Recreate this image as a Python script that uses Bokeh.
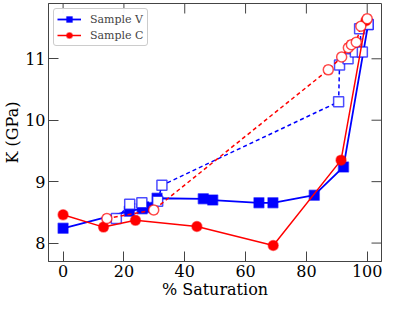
import math
from bokeh.plotting import figure
from bokeh.models import Range1d, FixedTicker, Legend, LegendItem, ColumnDataSource, Whisker, TeeHead
from bokeh.embed import file_html
from bokeh.resources import INLINE

# Sample V, solid (filled squares)
v_x = [0, 21.8, 26.0, 28.0, 30.9, 46.1, 49.2, 64.4, 69.0, 82.6, 92.2, 100.3]
v_y = [8.24, 8.52, 8.56, 8.58, 8.73, 8.72, 8.70, 8.655, 8.655, 8.78, 9.24, 11.56]
v_err = [0.03] * 12

# Sample V, dashed (open squares)
vo_x = [17.5, 21.9, 25.9, 31.1, 32.5, 90.6, 90.9, 93.7, 96.1, 98.4, 97.5, 100.3]
vo_y = [8.40, 8.63, 8.655, 8.68, 8.94, 10.30, 10.90, 11.00, 11.11, 11.11, 11.49, 11.56]
vo_err = [0.03] * 12

# Sample C, solid (filled circles)
c_x = [0, 13.3, 23.8, 44.0, 69.1, 91.4, 99.6]
c_y = [8.46, 8.26, 8.37, 8.27, 7.96, 9.35, 11.62]
c_err = [0.05] * 7

# Sample C, dashed (open circles)
co_x = [14.4, 29.8, 87.2, 91.6, 93.8, 94.8, 96.4, 97.9, 100.0]
co_y = [8.40, 8.54, 10.82, 11.03, 11.18, 11.23, 11.27, 11.53, 11.65]
co_err = [0.06] * 9

x_ticks = [0, 20, 40, 60, 80, 100]
y_ticks = [8, 9, 10, 11]
x_lim = (-4.8, 104.7)
y_lim = (7.7, 11.9)

BLUE = "#0000ff"
RED = "#ff0000"
FRAME = "#444444"
FONT = "DejaVu Serif"

p = figure(width=383, height=301, output_backend="svg", toolbar_location=None,
           x_range=Range1d(*x_lim), y_range=Range1d(*y_lim),
           min_border_left=0, min_border_right=2, min_border_top=3, min_border_bottom=0)
p.grid.visible = False
p.outline_line_color = FRAME
p.outline_line_width = 1

for ax in (p.xaxis[0], p.yaxis[0]):
    ax.major_tick_in = 10
    ax.major_tick_out = 0
    ax.minor_tick_line_color = None
    ax.axis_line_color = FRAME
    ax.major_tick_line_color = FRAME
    ax.major_label_text_font = FONT
    ax.major_label_text_font_size = "16px"
    ax.major_label_text_color = "#000000"
    ax.axis_label_text_font = FONT
    ax.axis_label_text_font_size = "16px"
    ax.axis_label_text_font_style = "normal"
    ax.axis_label_text_color = "#000000"
p.xaxis[0].ticker = FixedTicker(ticks=x_ticks)
p.yaxis[0].ticker = FixedTicker(ticks=y_ticks)
p.xaxis[0].axis_label = "% Saturation"
p.yaxis[0].axis_label = "K (GPa)"
p.xaxis[0].axis_label_standoff = 0
p.yaxis[0].axis_label_standoff = 0
p.xaxis[0].major_label_standoff = 3
p.yaxis[0].major_label_standoff = 3

# inward ticks on the top and right frame edges
p.ray(x=x_ticks, y=[y_lim[1]] * len(x_ticks), length=10, length_units="screen",
      angle=-math.pi / 2, line_color=FRAME, line_width=1)
p.ray(x=[x_lim[1]] * len(y_ticks), y=y_ticks, length=10, length_units="screen",
      angle=math.pi, line_color=FRAME, line_width=1)


def err_bars(xs, ys, es, color, alpha):
    src = ColumnDataSource(dict(x=xs, lo=[y - e for y, e in zip(ys, es)], hi=[y + e for y, e in zip(ys, es)]))
    w = Whisker(source=src, base="x", lower="lo", upper="hi", dimension="height",
                line_color=color, line_alpha=alpha, line_width=1.2,
                upper_head=TeeHead(size=8, line_color=color, line_alpha=alpha, line_width=1.2),
                lower_head=TeeHead(size=8, line_color=color, line_alpha=alpha, line_width=1.2))
    p.add_layout(w)


# Sample V solid
err_bars(v_x, v_y, v_err, BLUE, 0.5)
lv = p.line(v_x, v_y, line_color=BLUE, line_width=1.8)
sv = p.scatter(v_x, v_y, marker="square", size=10, fill_color=BLUE, line_color=BLUE, line_alpha=0.5, line_width=1.5)

# Sample V open
err_bars(vo_x, vo_y, vo_err, BLUE, 0.5)
p.line(vo_x, vo_y, line_color=BLUE, line_width=1.5, line_dash="4 3")
p.scatter(vo_x, vo_y, marker="square", size=10, fill_color="white", line_color=BLUE, line_alpha=0.7, line_width=1.5)

# Sample C solid
err_bars(c_x, c_y, c_err, RED, 0.5)
lc = p.line(c_x, c_y, line_color=RED, line_width=1.5)
sc = p.scatter(c_x, c_y, marker="circle", size=10, fill_color=RED, line_color=RED, line_alpha=0.5, line_width=1.5)

# Sample C open
err_bars(co_x, co_y, co_err, RED, 0.6)
p.line(co_x, co_y, line_color=RED, line_width=1.5, line_dash="4 3")
p.scatter(co_x, co_y, marker="circle", size=10, fill_color="white", line_color=RED, line_alpha=0.7, line_width=1.5)

legend = Legend(items=[LegendItem(label="Sample V", renderers=[lv, sv]),
                       LegendItem(label="Sample C", renderers=[lc, sc])],
                location="top_left")
legend.label_text_font = FONT
legend.label_text_font_size = "11px"
legend.border_line_color = "#cccccc"
legend.border_line_alpha = 1
legend.border_radius = 3
legend.padding = 3
legend.spacing = 2
legend.margin = 5
legend.glyph_width = 24
legend.label_standoff = 9
legend.label_height = 14
legend.glyph_height = 14
p.add_layout(legend)

open("out.html", "w").write(file_html(p, INLINE))
